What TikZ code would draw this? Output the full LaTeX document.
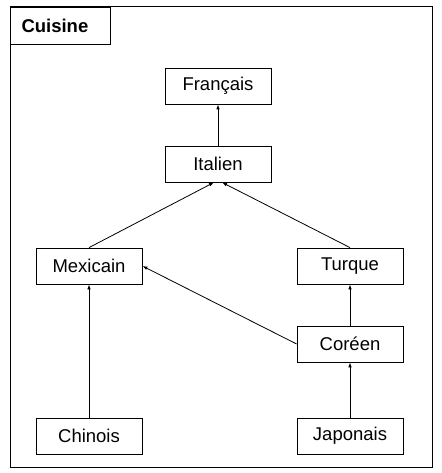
\documentclass[tikz,border=0pt]{standalone}
\usepackage{fontspec}
\setmainfont{Liberation Sans}
\usetikzlibrary{positioning}
\usetikzlibrary{arrows.meta}

\begin{document}
\begin{tikzpicture}[x=1pt,y=-1pt,
	cuisine/.style={draw,line width=.8pt,rectangle,minimum width=106pt,
	                minimum height=36pt,inner sep=0pt,
	                font=\fontsize{18.5}{22}\selectfont},
	herite/.style={-{Latex[length=5pt,width=3.6pt]},line width=.8pt},
	tabbox/.style={draw,line width=1pt,anchor=north west,text width=78pt,
	               inner xsep=11pt,minimum height=37pt,align=left,
	               font=\bfseries\fontsize{18.5}{22}\selectfont}]

	\useasboundingbox (0,0) rectangle (441,473);
	%package frame with its tab
	\draw[line width=1pt] (10,7) rectangle (432,467);
	\node[tabbox] (titre) at (10,7) {Cuisine};

	%classes
	\node[cuisine] (francais) at (218,86) {Français};
	\node[cuisine] (italien) at (218,164) {Italien};
	\node[cuisine] (mexicain) at (89,266) {Mexicain};
	\node[cuisine] (turque) at (350,266) {Turque};
	\node[cuisine] (coreen) at (350,344) {Coréen};
	\node[cuisine] (chinois) at (89,436) {Chinois};
	\node[cuisine] (japonais) at (350,436) {Japonais};

	%inheritance
	\draw[herite] (italien) -- (francais);
	\draw[herite] (mexicain.north) -- ([xshift=-4pt]italien.south);
	\draw[herite] (turque.north) -- ([xshift=4pt]italien.south);
	\draw[herite] (coreen.west) -- (mexicain.east);
	\draw[herite] (coreen) -- (turque);
	\draw[herite] (chinois) -- (mexicain);
	\draw[herite] (japonais) -- (coreen);

\end{tikzpicture}
\end{document}
